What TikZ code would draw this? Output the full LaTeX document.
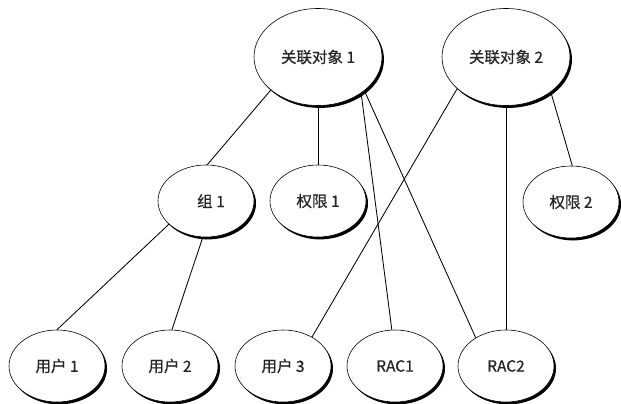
\documentclass[tikz,border=0pt]{standalone}
\usepackage{fontspec}
\newfontfamily\cjk[FakeBold=0.8]{Noto Sans CJK SC}
\usetikzlibrary{shapes.geometric,shadows}
\begin{document}
\begin{tikzpicture}[x=1pt,y=-1pt,
  oval/.style={ellipse, draw=black, line width=0.6pt, fill=white, inner sep=0pt,
    font=\cjk\fontsize{15.5}{17}\selectfont, text=black!85,
    general shadow={fill=black, shadow xshift=2pt, shadow yshift=-2.4pt}},
  bigoval/.style={oval, minimum width=128pt, minimum height=97pt},
  smalloval/.style={oval, minimum width=96pt, minimum height=72pt},
  link/.style={draw=black, line width=0.85pt}]
\useasboundingbox (0,0) rectangle (621,404);
% top
\node[bigoval] (a1) at (318,57) {关联对象 1};
\node[bigoval] (a2) at (506,57) {关联对象 2};
% middle
\node[smalloval] (g1) at (206,201) {\hspace{10pt}组 1};
\node[smalloval] (p1) at (318,201) {权限 1};
\node[smalloval] (p2) at (571,202) {权限 2};
% bottom
\node[smalloval] (u1) at (57,366) {用户 1};
\node[smalloval] (u2) at (170,366) {用户 2};
\node[smalloval] (u3) at (283,366) {用户 3};
\node[smalloval] (r1) at (395,366) {RAC1};
\node[smalloval] (r2) at (506,366) {RAC2};
% connectors
\draw[link] (a1.215) -- (g1.88);
\draw[link] (a1.south) -- (p1.north);
\draw[link] (a1.-40) -- (r1.95);
\draw[link] (a1.-36) -- (r2.137);
\draw[link] (a2.213) -- (u3.45);
\draw[link] (a2.south) -- (r2.north);
\draw[link] (a2.-38) -- (p2.88);
\draw[link] (g1.212) -- (u1.north);
\draw[link] (g1.-95) -- (u2.87);
\end{tikzpicture}
\end{document}
